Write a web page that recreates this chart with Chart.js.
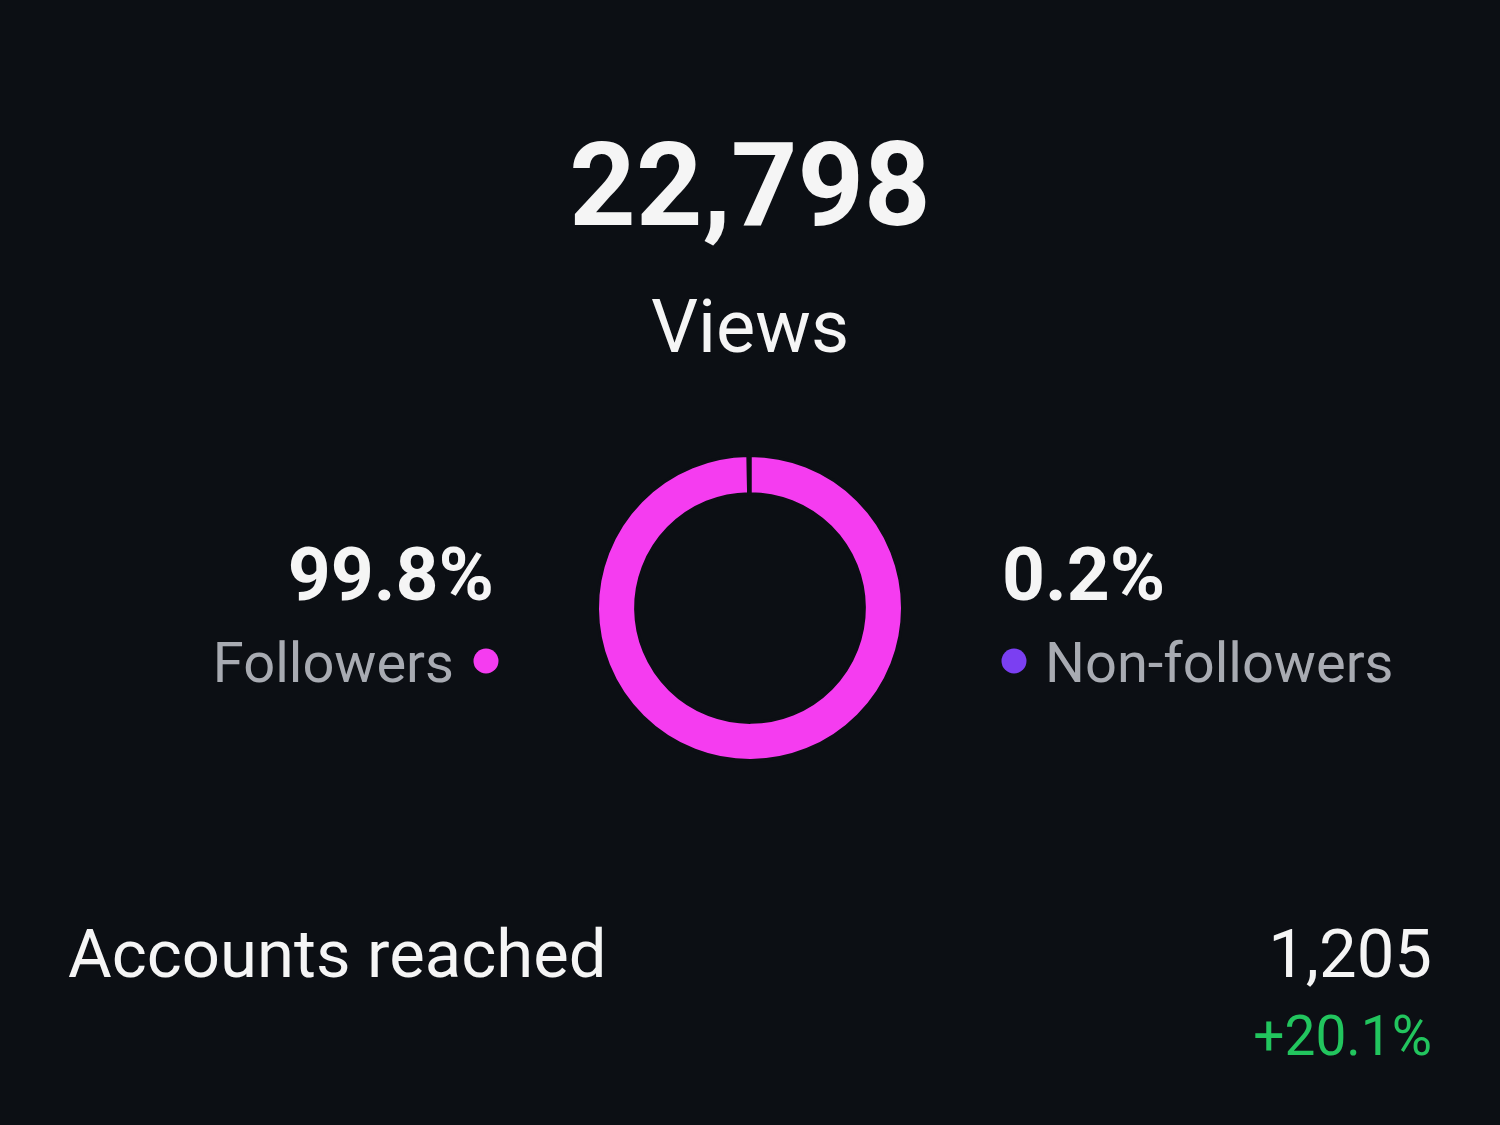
<!DOCTYPE html>
<html>
<head>
<meta charset="utf-8">
<script src="https://cdn.jsdelivr.net/npm/chart.js@4/dist/chart.umd.min.js"></script>
<style>
  html, body { margin: 0; padding: 0; background: #0c0f14; }
  #wrap { width: 1500px; height: 1125px; }
</style>
</head>
<body>
<div id="wrap"><canvas id="myChart"></canvas></div>
<script>
var categories = ['Followers', 'Non-followers'];
var shares = [99.8, 0.2];
var sliceColors = ['#f53cf0', '#7b3ff2'];

var totalViews = '22,798';
var totalLabel = 'Views';
var reachLabel = 'Accounts reached';
var reachValue = '1,205';
var reachChange = '+20.1%';

var bg = '#0c0f14';
var font = 'Roboto, "Noto Sans", sans-serif';

var textPlugin = {
  id: 'cardText',
  beforeDraw: function (chart) {
    var ctx = chart.ctx;
    ctx.save();
    ctx.fillStyle = bg;
    ctx.fillRect(0, 0, chart.width, chart.height);
    ctx.restore();
  },
  afterDraw: function (chart) {
    var ctx = chart.ctx;
    ctx.save();
    ctx.textBaseline = 'alphabetic';

    // headline
    ctx.fillStyle = '#f5f5f5';
    ctx.textAlign = 'center';
    ctx.font = 'bold 116px ' + font;
    ctx.fillText(totalViews, 750, 225);
    ctx.font = '74px ' + font;
    ctx.fillText(totalLabel, 750, 352);

    // left: followers
    ctx.textAlign = 'right';
    ctx.font = 'bold 75px ' + font;
    ctx.fillStyle = '#f5f5f5';
    ctx.fillText(shares[0] + '%', 494, 600);
    ctx.font = '56px ' + font;
    ctx.fillStyle = '#a8abb2';
    ctx.fillText(categories[0], 454, 682);
    ctx.fillStyle = sliceColors[0];
    ctx.beginPath();
    ctx.arc(486, 661, 12.5, 0, Math.PI * 2);
    ctx.fill();

    // right: non-followers
    ctx.textAlign = 'left';
    ctx.font = 'bold 75px ' + font;
    ctx.fillStyle = '#f5f5f5';
    ctx.fillText(shares[1] + '%', 1002, 600);
    ctx.font = '56px ' + font;
    ctx.fillStyle = '#a8abb2';
    ctx.fillText(categories[1], 1045, 682);
    ctx.fillStyle = sliceColors[1];
    ctx.beginPath();
    ctx.arc(1014, 661, 12.5, 0, Math.PI * 2);
    ctx.fill();

    // bottom row
    ctx.font = '67px ' + font;
    ctx.fillStyle = '#f5f5f5';
    ctx.textAlign = 'left';
    ctx.fillText(reachLabel, 68, 977);
    ctx.textAlign = 'right';
    ctx.fillText(reachValue, 1432, 977);
    ctx.font = '55px ' + font;
    ctx.fillStyle = '#22c55e';
    ctx.fillText(reachChange, 1432, 1055);

    ctx.restore();
  }
};

var ctxEl = document.getElementById('myChart').getContext('2d');
var myChart = new Chart(ctxEl, {
  type: 'doughnut',
  data: {
    labels: categories,
    datasets: [{
      data: shares,
      backgroundColor: sliceColors,
      borderColor: bg,
      borderWidth: 3,
      hoverOffset: 0
    }]
  },
  options: {
    responsive: true,
    maintainAspectRatio: false,
    animation: false,
    cutout: '75%',
    layout: {
      padding: { top: 454, bottom: 363, left: 596, right: 596 }
    },
    plugins: {
      legend: { display: false },
      tooltip: { enabled: false }
    }
  },
  plugins: [textPlugin]
});
</script>
</body>
</html>
